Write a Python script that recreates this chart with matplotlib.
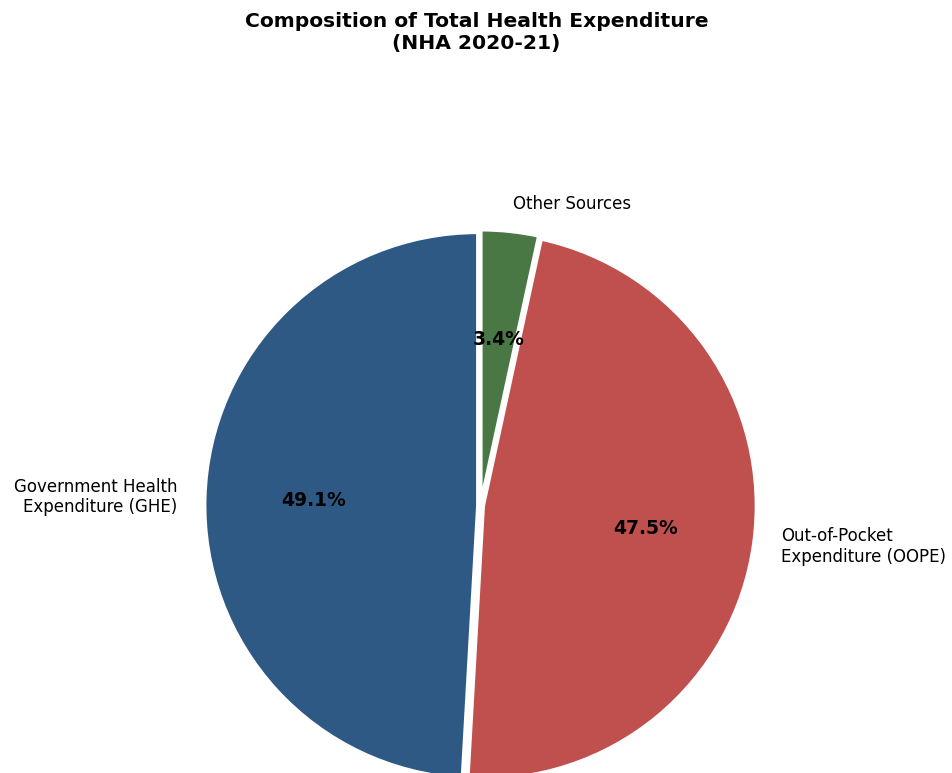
import matplotlib.pyplot as plt

labels = ["Government Health\nExpenditure (GHE)", "Out-of-Pocket\nExpenditure (OOPE)", "Other Sources"]
shares = [49.1, 47.5, 3.4]
colors = ["#2E5984", "#C0504D", "#4A7845"]

fig = plt.figure(figsize=(9.53, 7.73), dpi=100)
ax = fig.add_axes([0.146, -0.0958, 0.7165, 0.8834])

wedges, texts, autotexts = ax.pie(
    shares,
    labels=labels,
    colors=colors,
    autopct="%1.1f%%",
    startangle=90,
    explode=(0.01, 0.01, 0.01),
    wedgeprops=dict(edgecolor="white", linewidth=2.5),
    textprops=dict(fontsize=12),
)
for t in autotexts:
    t.set_fontsize(13.5)
    t.set_fontweight("bold")
ax.axis("equal")
ax.set_xlim(-1.25, 1.25)
ax.set_ylim(-1.25, 1.25)

fig.text(0.5, 0.958, "Composition of Total Health Expenditure\n(NHA 2020-21)",
         ha="center", va="center", fontsize=14.6, fontweight="bold")

fig.savefig("out.png", dpi=100)
